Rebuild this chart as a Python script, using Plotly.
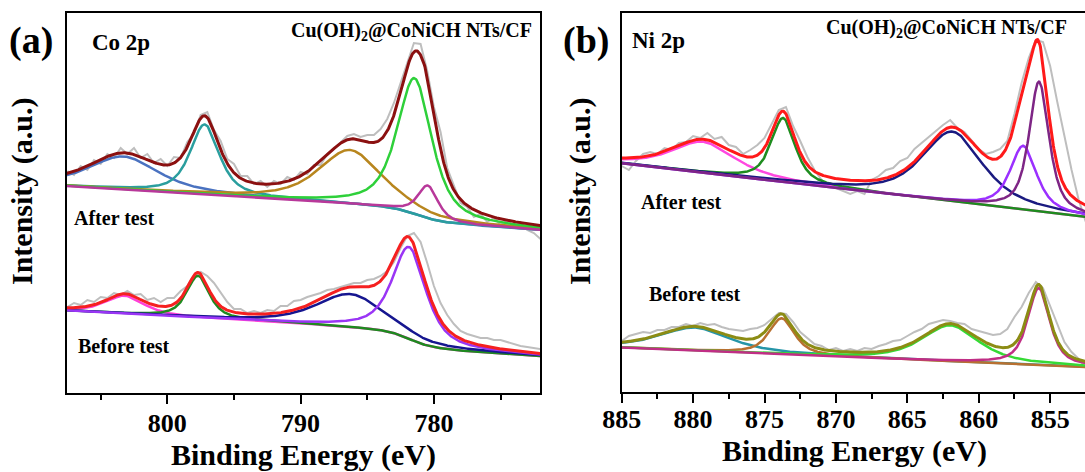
import numpy as np
import plotly.graph_objects as go

W, H = 1085, 472
FONT = "Liberation Serif, Times New Roman, serif"

# ---------------- Co 2p : measured spectra (0.5 eV steps, 807.5 -> 772.0 eV) ----------------
co_energy = np.arange(807.5, 771.75, -0.5)
co_after_raw = [
    222, 218, 227, 223, 233, 229, 239, 235, 245, 239, 245, 235, 239, 230, 234, 227,
    236, 235, 251, 259, 278, 281, 263, 252, 234, 229, 217, 217, 209, 212, 206, 212,
    209, 216, 213, 221, 219, 228, 228, 239, 244, 250, 257, 259, 256, 258, 258, 264,
    274, 290, 310, 332, 350, 349, 322, 286, 261, 225, 208, 190, 186, 176, 179, 171,
    175, 168, 173, 166, 171, 163, 160, 154,
]
co_before_raw = [
    86, 90, 88, 93, 91, 96, 95, 100, 98, 102, 98, 99, 93, 95, 91, 95,
    95, 102, 107, 118, 121, 117, 110, 100, 91, 84, 84, 80, 82, 80, 83, 82,
    87, 87, 92, 93, 96, 98, 100, 103, 104, 106, 108, 110, 110, 113, 114, 117,
    122, 131, 145, 157, 160, 151, 130, 107, 90, 78, 69, 62, 59, 57, 55, 55,
    53, 53, 51, 49, 47, 46, 45, 44,
]

# Co 2p fitted components: centre (eV), height, FWHM (eV)
co_after_center = [803.3, 797.2, 786.3, 781.45, 780.45]
co_after_height = [33, 70, 54, 136, 33]
co_after_fwhm = [6.2, 2.6, 5.6, 3.1, 1.8]
co_after_colors = ["#4A72C0", "#2A9E9E", "#B8861E", "#2ED03A", "#B8389A"]
co_after_env_color = "#8B1010"
# background: level at low-BE end, slope per eV, Shirley step, peaks driving the step
co_after_bg = (163, 0.8, 15.6, [3, 4])

co_before_center = [803.2, 797.7, 786.3, 781.85]
co_before_height = [18, 42, 33, 92]
co_before_fwhm = [3.4, 2.0, 6.1, 3.0]
co_before_colors = ["#FF40D8", "#1F8A1F", "#161690", "#9A35F5"]
co_before_env_color = "#F52020"
co_before_bg = (37, 0.707, 20.3, [3])

# ---------------- Ni 2p : measured spectra (0.5 eV steps, 885.0 -> 852.5 eV) ----------------
ni_energy = np.arange(885.0, 852.25, -0.5)
ni_after_raw = [
    226, 222, 231, 238, 240, 238, 244, 242, 249, 250, 256, 254, 259, 253, 255, 247,
    245, 238, 242, 247, 254, 268, 282, 285, 266, 251, 235, 222, 212, 207, 204, 201,
    198, 201, 198, 212, 216, 222, 224, 231, 234, 243, 249, 255, 261, 267, 272, 264,
    260, 251, 243, 238, 240, 243, 251, 278, 309, 334, 352, 350, 326, 290, 255, 222,
    192, 170,
]
ni_before_raw = [
    51, 56, 58, 60, 59, 62, 62, 65, 65, 68, 66, 69, 67, 68, 65, 63,
    62, 61, 63, 64, 67, 73, 79, 78, 70, 60, 54, 48, 46, 42, 44, 41,
    43, 41, 44, 43, 46, 48, 51, 52, 56, 60, 63, 68, 70, 72, 71, 69,
    68, 63, 61, 59, 57, 58, 63, 75, 85, 99, 110, 104, 86, 66, 50, 40,
    33, 24,
]

ni_after_center = [879.3, 873.7, 861.85, 856.88, 855.78]
ni_after_height = [31, 64, 70, 64, 130]
ni_after_fwhm = [5.3, 2.0, 5.0, 2.2, 1.65]
ni_after_colors = ["#FF48E0", "#1E8C1E", "#1A1A80", "#9B30FF", "#7E2585"]
ni_after_env_color = "#FF1A1A"
ni_after_bg = (175, 1.65, 0, [4])

ni_before_center = [879.9, 873.8, 862.0, 855.8]
ni_before_height = [23, 36, 36, 77]
ni_before_fwhm = [5.8, 2.1, 4.7, 1.8]
ni_before_colors = ["#2595A8", "#B87030", "#35DA35", "#C02E85"]
ni_before_env_color = "#8C8C14"
ni_before_bg = (25, 0.6, 0, [3])

RAW_COLOR = "#BEBEBE"
LORENTZ_FRACTION = 0.7


def pseudo_voigt(e, c, h, w, eta=LORENTZ_FRACTION):
    hw = w / 2.0
    lor = 1.0 / (1.0 + ((e - c) / hw) ** 2)
    gau = np.exp(-np.log(2) * ((e - c) / hw) ** 2)
    return h * (eta * lor + (1 - eta) * gau)


def fit_curves(e_lo, e_hi, centers, heights, fwhms, bg_par):
    e = np.linspace(e_lo, e_hi, 900)
    comps = [pseudo_voigt(e, c, h, w) for c, h, w in zip(centers, heights, fwhms)]
    base, slope, step, main = bg_par
    main_sum = np.sum([comps[i] for i in main], axis=0)
    cum = np.cumsum(main_sum)
    cum = cum / cum[-1]
    bg = base + slope * (e - e_lo) + step * cum
    return e, bg, comps


fig = go.Figure()


def add_spectrum(xref, yref, energy, raw, e_lo, e_hi, centers, heights, fwhms, bg_par,
                 colors, env_color):
    ax = dict(xaxis=xref, yaxis=yref)
    fig.add_trace(go.Scatter(x=energy, y=raw, mode="lines",
                             line=dict(color=RAW_COLOR, width=2), **ax))
    e, bg, comps = fit_curves(e_lo, e_hi, centers, heights, fwhms, bg_par)
    for comp, col in zip(comps, colors):
        fig.add_trace(go.Scatter(x=e, y=bg + comp, mode="lines",
                                 line=dict(color=col, width=2.5), **ax))
    fig.add_trace(go.Scatter(x=e, y=bg + np.sum(comps, axis=0), mode="lines",
                             line=dict(color=env_color, width=3), **ax))


CO_RANGE = [807.55, 772.04]
NI_RANGE = [885.0, 852.56]

add_spectrum("x", "y", co_energy, co_after_raw, 772.0, 807.6, co_after_center,
             co_after_height, co_after_fwhm, co_after_bg, co_after_colors, co_after_env_color)
add_spectrum("x", "y", co_energy, co_before_raw, 772.0, 807.6, co_before_center,
             co_before_height, co_before_fwhm, co_before_bg, co_before_colors, co_before_env_color)
add_spectrum("x2", "y2", ni_energy, ni_after_raw, 852.5, 885.0, ni_after_center,
             ni_after_height, ni_after_fwhm, ni_after_bg, ni_after_colors, ni_after_env_color)
add_spectrum("x2", "y2", ni_energy, ni_before_raw, 852.5, 885.0, ni_before_center,
             ni_before_height, ni_before_fwhm, ni_before_bg, ni_before_colors, ni_before_env_color)


def px(x, y):
    return x / W, 1 - y / H


xa_dom = [66.7 / W, 540 / W]
xb_dom = [621.7 / W, 1.0]
ya_dom = [(H - 393) / H, (H - 13) / H]
yb_dom = [(H - 392) / H, (H - 13) / H]

tickfont = dict(family=FONT, size=26, color="black", weight="bold")

common_x = dict(showline=True, linecolor="black", linewidth=2, mirror=True,
                ticks="outside", tickwidth=2, ticklen=9, tickcolor="black",
                showgrid=False, zeroline=False, tickfont=tickfont, automargin=False)
common_y = dict(showline=True, linecolor="black", linewidth=2, showticklabels=False,
                ticks="", showgrid=False, zeroline=False, automargin=False)

fig.update_layout(
    width=W, height=H, margin=dict(l=0, r=0, t=0, b=0, autoexpand=False),
    paper_bgcolor="white", plot_bgcolor="white", showlegend=False,
    xaxis=dict(domain=xa_dom, range=CO_RANGE, tick0=780, dtick=10,
               ticklabelstandoff=-3,
               minor=dict(dtick=5, tick0=780, ticks="outside", ticklen=5,
                          tickwidth=2, tickcolor="black"),
               anchor="y", **common_x),
    yaxis=dict(domain=ya_dom, range=[0, 380], mirror=True, anchor="x", **common_y),
    xaxis2=dict(domain=xb_dom, range=NI_RANGE, tick0=855, dtick=5,
                ticklabelstandoff=-6,
                minor=dict(dtick=2.5, tick0=855, ticks="outside", ticklen=5,
                           tickwidth=2, tickcolor="black"),
                anchor="y2", **common_x),
    yaxis2=dict(domain=yb_dom, range=[0, 379], mirror=False, anchor="x2", **common_y),
)


def label(text, x, y, size, xanchor="center", angle=0):
    xp, yp = px(x, y)
    fig.add_annotation(text=text, x=xp, y=yp, xref="paper", yref="paper",
                       xanchor=xanchor, yanchor="middle", showarrow=False,
                       textangle=angle,
                       font=dict(family=FONT, size=size, color="black", weight="bold"))


formula = "Cu(OH)<sub>2</sub>@CoNiCH NTs/CF"

label("(a)", 31, 40, 38)
label("(b)", 586, 40, 38)
label("Co 2p", 90, 43, 23, xanchor="left")
label("Ni 2p", 630, 40, 23, xanchor="left")
label(formula, 534, 31, 20, xanchor="right")
label(formula, 1069, 29, 20, xanchor="right")
label("After test", 72, 218, 20, xanchor="left")
label("Before test", 76, 346, 20, xanchor="left")
label("After test", 639, 202, 20, xanchor="left")
label("Before test", 647, 294, 20, xanchor="left")
label("Intensity (a.u.)", 22, 191, 30, angle=-90)
label("Intensity (a.u.)", 580, 191, 30, angle=-90)
label("Binding Energy (eV)", 303, 455, 30)
label("Binding Energy (eV)", 854, 451, 30)

fig.write_html("out.html")
